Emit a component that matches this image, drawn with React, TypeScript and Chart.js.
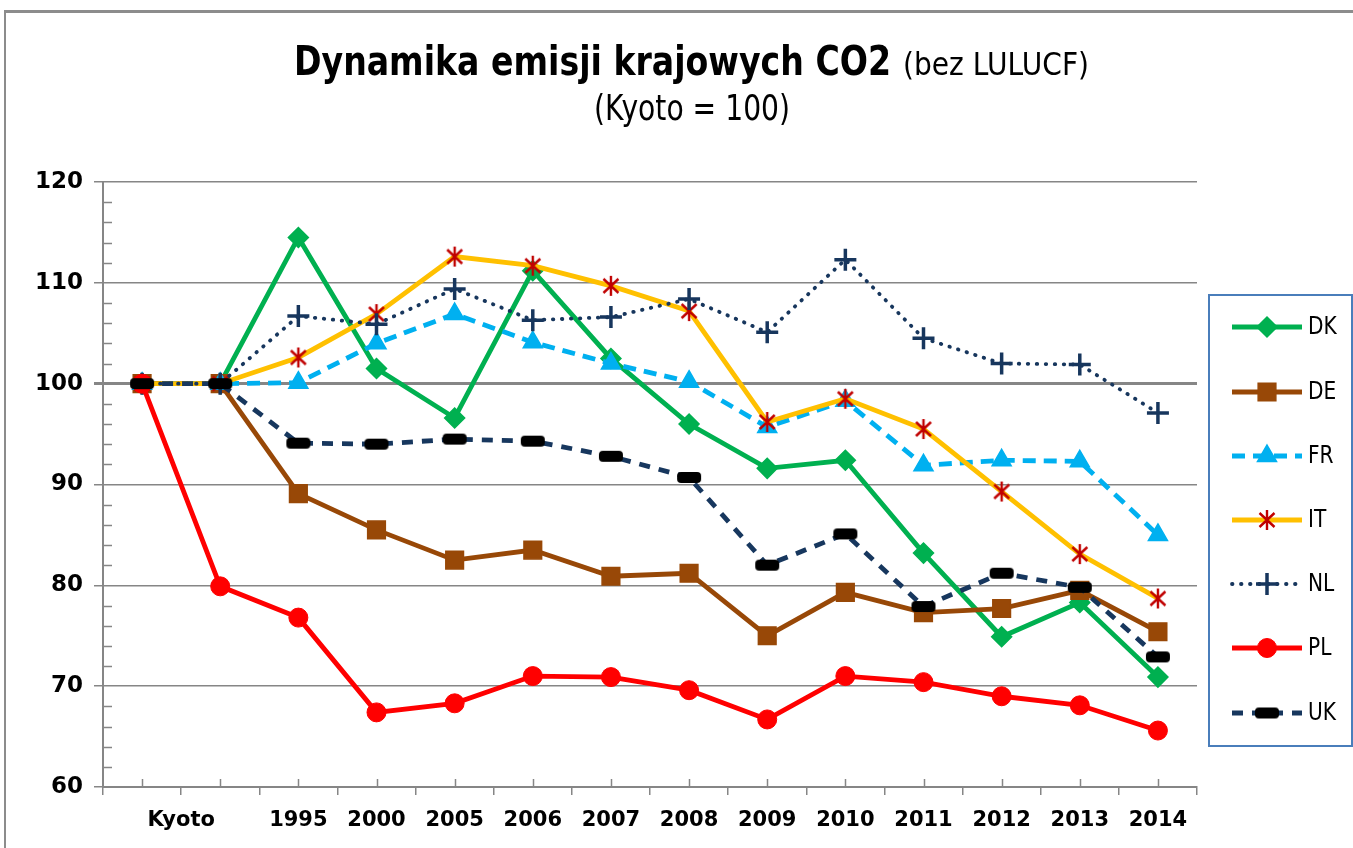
import React, { useEffect, useRef } from 'react';
import { Chart, registerables } from 'chart.js';

Chart.register(...registerables);

// ---- data ----
const categories = ['Kyoto', '', '1995', '2000', '2005', '2006', '2007', '2008', '2009', '2010', '2011', '2012', '2013', '2014'];
const seriesNames = ['DK', 'DE', 'FR', 'IT', 'NL', 'PL', 'UK'];
const dk = [100, 100, 114.5, 101.5, 96.6, 111.2, 102.5, 96.0, 91.6, 92.4, 83.2, 74.9, 78.3, 70.9];
const de = [100, 100, 89.1, 85.5, 82.5, 83.5, 80.9, 81.2, 75.0, 79.3, 77.3, 77.7, 79.5, 75.4];
const fr = [100, 100, 100.1, 104.0, 106.9, 104.1, 102.0, 100.2, 95.7, 98.3, 91.9, 92.4, 92.3, 85.0];
const it = [100, 100, 102.6, 106.9, 112.6, 111.7, 109.7, 107.2, 96.2, 98.5, 95.5, 89.3, 83.1, 78.7];
const nl = [100, 100, 106.7, 105.9, 109.4, 106.3, 106.6, 108.4, 105.1, 112.3, 104.5, 102.0, 101.9, 97.1];
const pl = [100, 79.9, 76.8, 67.4, 68.3, 71.0, 70.9, 69.6, 66.7, 71.0, 70.4, 69.0, 68.1, 65.6];
const uk = [100, 100, 94.1, 94.0, 94.5, 94.3, 92.8, 90.7, 82.0, 85.1, 77.9, 81.2, 79.8, 72.9];
const yTicks = [60, 70, 80, 90, 100, 110, 120];

const titleBold = 'Dynamika emisji krajowych CO2';
const titleNormal = '(bez LULUCF)';
const subtitle = '(Kyoto = 100)';

const W = 1353;
const H = 848;
const GRAY = '#868686';
const FONT = "'DejaVu Sans', Verdana, sans-serif";

function makeAsterisk(): HTMLCanvasElement {
  const c = document.createElement('canvas');
  c.width = 22;
  c.height = 22;
  const g = c.getContext('2d')!;
  g.strokeStyle = '#C00000';
  g.lineWidth = 2.4;
  g.beginPath();
  g.moveTo(3.5, 4);
  g.lineTo(18.5, 18);
  g.moveTo(18.5, 4);
  g.lineTo(3.5, 18);
  g.moveTo(11, 1);
  g.lineTo(11, 21);
  g.stroke();
  return c;
}

function makeDash(): HTMLCanvasElement {
  const c = document.createElement('canvas');
  c.width = 26;
  c.height = 13;
  const g = c.getContext('2d')!;
  g.fillStyle = '#000000';
  const x = 1, y = 1, w = 24, h = 11, r = 4;
  g.beginPath();
  g.moveTo(x + r, y);
  g.lineTo(x + w - r, y);
  g.quadraticCurveTo(x + w, y, x + w, y + r);
  g.lineTo(x + w, y + h - r);
  g.quadraticCurveTo(x + w, y + h, x + w - r, y + h);
  g.lineTo(x + r, y + h);
  g.quadraticCurveTo(x, y + h, x, y + h - r);
  g.lineTo(x, y + r);
  g.quadraticCurveTo(x, y, x + r, y);
  g.closePath();
  g.fill();
  return c;
}

function fitText(ctx: CanvasRenderingContext2D, text: string, x: number, y: number, font: string, width: number) {
  ctx.save();
  ctx.font = font;
  ctx.textAlign = 'left';
  ctx.textBaseline = 'alphabetic';
  const w = ctx.measureText(text).width;
  const s = width / w;
  ctx.translate(x, y);
  ctx.scale(s, 1);
  ctx.fillStyle = '#000';
  ctx.fillText(text, 0, 0);
  ctx.restore();
}

function drawLegendMarker(ctx: CanvasRenderingContext2D, ds: any, x: number, y: number) {
  const st = ds.pointStyle;
  const r = ds.pointRadius;
  ctx.save();
  ctx.fillStyle = ds.pointBackgroundColor;
  ctx.strokeStyle = ds.pointBorderColor;
  ctx.lineWidth = ds.pointBorderWidth;
  ctx.setLineDash([]);
  ctx.beginPath();
  if (typeof st !== 'string') {
    ctx.drawImage(st, x - st.width / 2, y - st.height / 2);
    ctx.restore();
    return;
  }
  if (st === 'rectRot') {
    ctx.moveTo(x - r, y);
    ctx.lineTo(x, y - r);
    ctx.lineTo(x + r, y);
    ctx.lineTo(x, y + r);
    ctx.closePath();
    ctx.fill();
    ctx.stroke();
  } else if (st === 'rect') {
    const s = Math.SQRT1_2 * r;
    ctx.rect(x - s, y - s, 2 * s, 2 * s);
    ctx.fill();
    ctx.stroke();
  } else if (st === 'triangle') {
    ctx.moveTo(x, y - r);
    ctx.lineTo(x + Math.sin((2 * Math.PI) / 3) * r, y - Math.cos((2 * Math.PI) / 3) * r);
    ctx.lineTo(x + Math.sin((4 * Math.PI) / 3) * r, y - Math.cos((4 * Math.PI) / 3) * r);
    ctx.closePath();
    ctx.fill();
    ctx.stroke();
  } else if (st === 'cross') {
    ctx.moveTo(x, y - r);
    ctx.lineTo(x, y + r);
    ctx.moveTo(x - r, y);
    ctx.lineTo(x + r, y);
    ctx.stroke();
  } else if (st === 'circle') {
    ctx.arc(x, y, r, 0, Math.PI * 2);
    ctx.fill();
    ctx.stroke();
  }
  ctx.restore();
}

const extrasPlugin = {
  id: 'extras',
  beforeDraw(chart: any) {
    const ctx: CanvasRenderingContext2D = chart.ctx;
    ctx.save();
    ctx.fillStyle = '#ffffff';
    ctx.fillRect(0, 0, W, H);
    // outer frame
    ctx.fillStyle = '#8c8c8c';
    ctx.fillRect(4, 10, W - 4, 3);
    ctx.fillRect(4, 10, 2, H - 10);
    ctx.restore();
    // title
    fitText(ctx, titleBold, 294, 75, `bold 40px ${FONT}`, 597);
    fitText(ctx, titleNormal, 903, 75, `32px ${FONT}`, 186);
    fitText(ctx, subtitle, 594, 120, `36px ${FONT}`, 196);
  },
  beforeDatasetsDraw(chart: any) {
    const ctx: CanvasRenderingContext2D = chart.ctx;
    const x = chart.scales.x;
    const y = chart.scales.y;
    const area = chart.chartArea;
    ctx.save();
    ctx.strokeStyle = GRAY;
    ctx.lineWidth = 1.5;
    ctx.beginPath();
    // minor y ticks (inside)
    for (let v = 62; v < 120; v += 2) {
      if (v % 10 === 0) continue;
      const py = Math.round(y.getPixelForValue(v)) + 0.5;
      ctx.moveTo(area.left, py);
      ctx.lineTo(area.left + 9, py);
    }
    // x ticks at category centres (inside)
    for (let i = 0; i < categories.length; i++) {
      const px = Math.round(x.getPixelForValue(i)) + 0.5;
      ctx.moveTo(px, area.bottom);
      ctx.lineTo(px, area.bottom - 8);
    }
    ctx.stroke();
    ctx.restore();
  },
  afterDraw(chart: any) {
    const ctx: CanvasRenderingContext2D = chart.ctx;
    const x = chart.scales.x;
    // Kyoto label spanning first two categories
    const kx = (x.getPixelForValue(0) + x.getPixelForValue(1)) / 2;
    ctx.save();
    ctx.font = `bold 21px ${FONT}`;
    ctx.fillStyle = '#000';
    ctx.textAlign = 'center';
    ctx.textBaseline = 'middle';
    ctx.fillText(categories[0], kx, chart.chartArea.bottom + 8 + 13 + 12.6);
    ctx.restore();

    // legend
    const bx = 1209, by = 295, bw = 143, bh = 451;
    ctx.save();
    ctx.strokeStyle = '#4a7ebb';
    ctx.lineWidth = 2;
    ctx.strokeRect(bx, by, bw, bh);
    const itemY = [327, 392, 456, 520, 584, 648, 713];
    chart.data.datasets.forEach((ds: any, i: number) => {
      const yy = itemY[i];
      ctx.save();
      ctx.strokeStyle = ds.borderColor;
      ctx.lineWidth = ds.borderWidth;
      ctx.lineCap = ds.borderCapStyle || 'butt';
      ctx.setLineDash(ds.borderDash || []);
      ctx.beginPath();
      ctx.moveTo(1232, yy);
      ctx.lineTo(1302, yy);
      ctx.stroke();
      ctx.restore();
      drawLegendMarker(ctx, ds, 1267, yy);
      ctx.save();
      ctx.font = `24px ${FONT}`;
      ctx.translate(1308, yy + 1);
      ctx.scale(0.84, 1);
      ctx.fillStyle = '#000';
      ctx.textAlign = 'left';
      ctx.textBaseline = 'middle';
      ctx.fillText(ds.label, 0, 0);
      ctx.restore();
    });
    ctx.restore();
  },
};

export default function App() {
  const ref = useRef<HTMLCanvasElement | null>(null);

  useEffect(() => {
    const canvas = ref.current;
    if (!canvas) return;
    const asterisk = makeAsterisk();
    const dash = makeDash();

    const datasets: any[] = [
      {
        label: seriesNames[0], data: dk, borderColor: '#00B050', borderWidth: 4.8,
        pointStyle: 'rectRot', pointRadius: 10, pointBackgroundColor: '#00B050', pointBorderColor: '#00B050', pointBorderWidth: 1.5,
        order: 7,
      },
      {
        label: seriesNames[1], data: de, borderColor: '#984807', borderWidth: 4.8,
        pointStyle: 'rect', pointRadius: 12.5, pointBackgroundColor: '#984807', pointBorderColor: '#984807', pointBorderWidth: 1.5,
        order: 6,
      },
      {
        label: seriesNames[2], data: fr, borderColor: '#00B0F0', borderWidth: 4.8, borderDash: [13, 8],
        pointStyle: 'triangle', pointRadius: 11, pointBackgroundColor: '#00B0F0', pointBorderColor: '#00B0F0', pointBorderWidth: 1.5,
        order: 5,
      },
      {
        label: seriesNames[3], data: it, borderColor: '#FFC000', borderWidth: 4.8,
        pointStyle: asterisk, pointRadius: 11, pointBackgroundColor: '#C00000', pointBorderColor: '#C00000', pointBorderWidth: 2,
        order: 4,
      },
      {
        label: seriesNames[4], data: nl, borderColor: '#17365D', borderWidth: 3.8, borderDash: [0.5, 8.5], borderCapStyle: 'round',
        pointStyle: 'cross', pointRadius: 11, pointBackgroundColor: '#17365D', pointBorderColor: '#17365D', pointBorderWidth: 3.5,
        order: 3,
      },
      {
        label: seriesNames[5], data: pl, borderColor: '#FF0000', borderWidth: 4.8,
        pointStyle: 'circle', pointRadius: 9.5, pointBackgroundColor: '#FF0000', pointBorderColor: '#FF0000', pointBorderWidth: 1,
        order: 2,
      },
      {
        label: seriesNames[6], data: uk, borderColor: '#17375E', borderWidth: 4.8, borderDash: [11, 9],
        pointStyle: dash, pointRadius: 11, pointBackgroundColor: '#000000', pointBorderColor: '#000000', pointBorderWidth: 1,
        order: 1,
      },
    ];

    const chart = new Chart(canvas, {
      type: 'line',
      data: { labels: categories, datasets },
      options: {
        responsive: false,
        animation: false,
        devicePixelRatio: 1,
        layout: { padding: { top: 182, right: W - 1197, left: 0, bottom: 0 } },
        elements: { line: { tension: 0 } },
        plugins: {
          legend: { display: false },
          title: { display: false },
          tooltip: { enabled: false },
        },
        scales: {
          x: {
            type: 'category',
            offset: true,
            grid: {
              display: true,
              offset: true,
              drawOnChartArea: false,
              drawTicks: true,
              tickLength: 8,
              color: GRAY,
              lineWidth: 1.5,
            },
            border: { display: true, color: GRAY, width: 2 },
            ticks: {
              autoSkip: false,
              maxRotation: 0,
              minRotation: 0,
              padding: 13,
              color: '#000',
              font: { family: FONT, size: 21, weight: 'bold' },
              callback: (_v: any, i: number) => (i < 2 ? '' : categories[i]),
            },
            afterFit: (s: any) => {
              s.height = H - 787;
            },
          },
          y: {
            min: 60,
            max: 120,
            afterBuildTicks: (s: any) => {
              s.ticks = yTicks.map((v) => ({ value: v }));
            },
            grid: {
              color: GRAY,
              lineWidth: (c: any) => (c.tick && c.tick.value === 100 ? 3 : 1.5),
              drawTicks: true,
              tickLength: 9,
            },
            border: { display: true, color: GRAY, width: 2 },
            ticks: {
              padding: 11,
              color: '#000',
              font: { family: FONT, size: 23, weight: 'bold' },
            },
            afterFit: (s: any) => {
              s.width = 103;
            },
          },
        },
      },
      plugins: [extrasPlugin],
    });

    return () => {
      chart.destroy();
    };
  }, []);

  return (
    <div style={{ position: 'absolute', left: 0, top: 0, width: W, height: H, overflow: 'hidden', background: '#fff' }}>
      <canvas ref={ref} width={W} height={H} style={{ display: 'block', width: W, height: H }} />
    </div>
  );
}
